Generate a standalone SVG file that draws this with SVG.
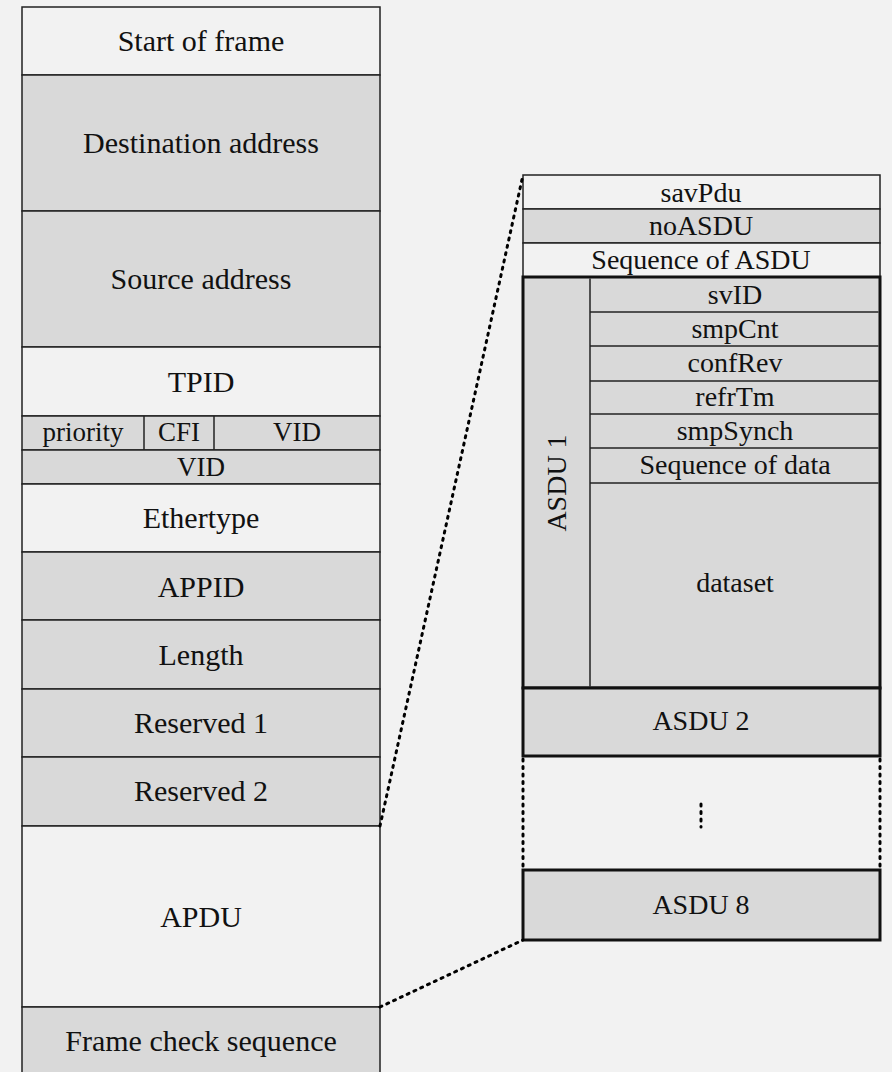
<svg xmlns="http://www.w3.org/2000/svg" width="892" height="1072" viewBox="0 0 892 1072">
<style>
text{font-family:"Liberation Serif","Times New Roman",serif;fill:#111;text-anchor:middle}
.l{font-size:30px}
.s{font-size:27px}
.r{font-size:28px}
.w{fill:#f2f2f2;stroke:#222;stroke-width:1.5}
.g{fill:#d9d9d9;stroke:#222;stroke-width:1.5}
.tk{fill:#d9d9d9;stroke:#111;stroke-width:3}
.ln{stroke:#222;stroke-width:1.5;fill:none}
.dot{stroke:#000;stroke-width:3;stroke-dasharray:2 5.5;stroke-linecap:round;fill:none}
</style>
<rect width="892" height="1072" fill="#f2f2f2"/>
<g id="left-column">
<g id="start-of-frame"><rect class="w" x="22" y="7" width="358" height="68"/><text class="l" x="201" y="51">Start of frame</text></g>
<g id="destination-address"><rect class="g" x="22" y="75" width="358" height="136"/><text class="l" x="201" y="153">Destination address</text></g>
<g id="source-address"><rect class="g" x="22" y="211" width="358" height="136"/><text class="l" x="201" y="289">Source address</text></g>
<g id="tpid"><rect class="w" x="22" y="347" width="358" height="69"/><text class="l" x="201" y="392">TPID</text></g>
<g id="tci-row"><rect class="g" x="22" y="416" width="358" height="34"/><line class="ln" x1="144" y1="416" x2="144" y2="450"/><line class="ln" x1="214" y1="416" x2="214" y2="450"/>
<text class="s" x="83" y="441">priority</text><text class="s" x="179" y="441">CFI</text><text class="s" x="297" y="441">VID</text></g>
<g id="vid"><rect class="g" x="22" y="450" width="358" height="34"/><text class="s" x="201" y="476">VID</text></g>
<g id="ethertype"><rect class="w" x="22" y="484" width="358" height="68"/><text class="l" x="201" y="528">Ethertype</text></g>
<g id="appid"><rect class="g" x="22" y="552" width="358" height="68"/><text class="l" x="201" y="597">APPID</text></g>
<g id="length"><rect class="g" x="22" y="620" width="358" height="69"/><text class="l" x="201" y="665">Length</text></g>
<g id="reserved-1"><rect class="g" x="22" y="689" width="358" height="68"/><text class="l" x="201" y="733">Reserved 1</text></g>
<g id="reserved-2"><rect class="g" x="22" y="757" width="358" height="69"/><text class="l" x="201" y="801">Reserved 2</text></g>
<g id="apdu"><rect class="w" x="22" y="826" width="358" height="181"/><text class="l" x="201" y="927">APDU</text></g>
<g id="fcs"><rect class="g" x="22" y="1007" width="358" height="70"/><text class="l" x="201" y="1051">Frame check sequence</text></g>
</g>
<g id="right-column">
<g id="savpdu"><rect class="w" x="523" y="175" width="357" height="34"/><text class="r" x="701" y="201.5">savPdu</text></g>
<g id="noasdu"><rect class="g" x="523" y="209" width="357" height="34"/><text class="r" x="701" y="235">noASDU</text></g>
<g id="sequence-of-asdu"><rect class="w" x="523" y="243" width="357" height="34"/><text class="r" x="701" y="268.5">Sequence of ASDU</text></g>
<g id="asdu-1">
<rect class="tk" x="523" y="277" width="357" height="411"/>
<line class="ln" x1="590" y1="278.5" x2="590" y2="686.5"/>
<line class="ln" x1="590" y1="312" x2="878.5" y2="312"/>
<line class="ln" x1="590" y1="346" x2="878.5" y2="346"/>
<line class="ln" x1="590" y1="381" x2="878.5" y2="381"/>
<line class="ln" x1="590" y1="414" x2="878.5" y2="414"/>
<line class="ln" x1="590" y1="448" x2="878.5" y2="448"/>
<line class="ln" x1="590" y1="483" x2="878.5" y2="483"/>
<text class="r" transform="translate(566,483) rotate(-90)" x="0" y="0">ASDU 1</text>
<text class="r" x="735" y="303.5">svID</text>
<text class="r" x="735" y="338">smpCnt</text>
<text class="r" x="735" y="372">confRev</text>
<text class="r" x="735" y="406">refrTm</text>
<text class="r" x="735" y="440">smpSynch</text>
<text class="r" x="735" y="473.5">Sequence of data</text>
<text class="r" x="735" y="592">dataset</text>
</g>
<g id="asdu-2"><rect class="tk" x="523" y="688" width="357" height="68"/><text class="r" x="701" y="730">ASDU 2</text></g>
<g id="ellipsis"><line class="dot" x1="523" y1="759" x2="523" y2="868"/><line class="dot" x1="880" y1="759" x2="880" y2="868"/><line class="dot" x1="701" y1="804" x2="701" y2="827"/></g>
<g id="asdu-8"><rect class="tk" x="523" y="870" width="357" height="70"/><text class="r" x="701" y="914">ASDU 8</text></g>
</g>
<g id="connectors">
<line class="dot" x1="380" y1="826" x2="523" y2="175"/>
<line class="dot" x1="380" y1="1007" x2="523" y2="940"/>
</g>
</svg>
